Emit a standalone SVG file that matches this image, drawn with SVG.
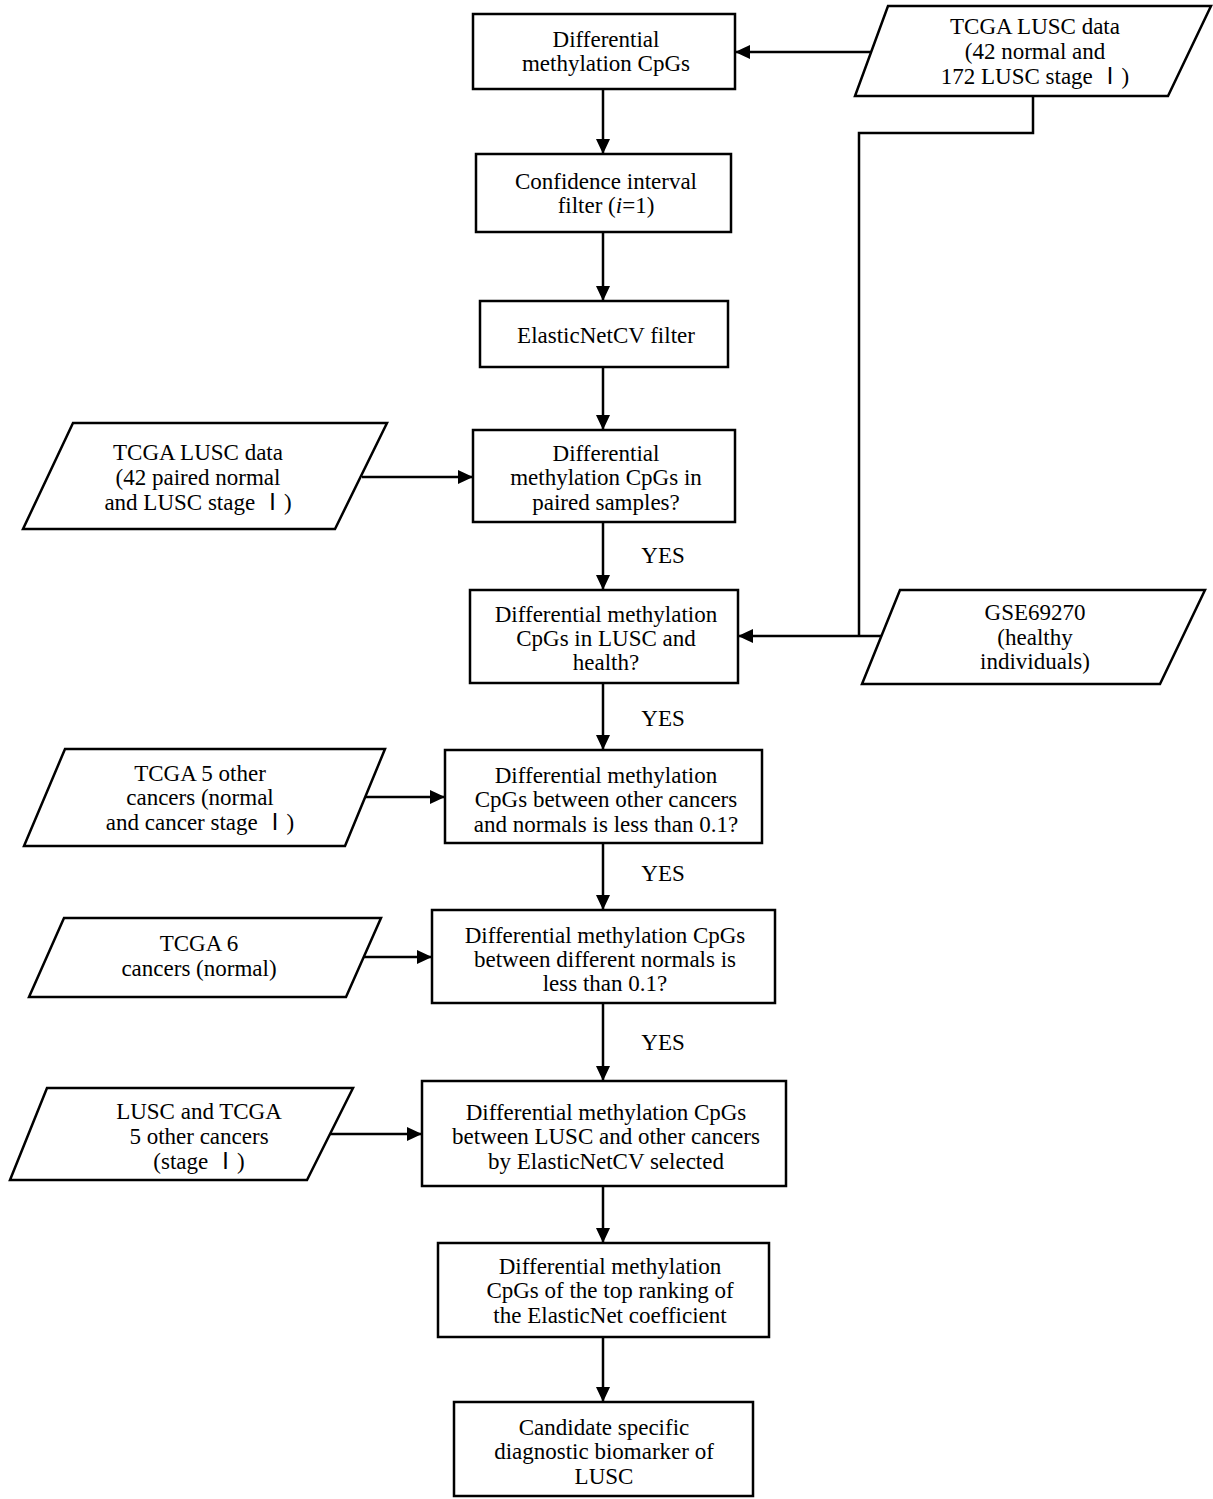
<svg xmlns="http://www.w3.org/2000/svg" width="1213" height="1499" viewBox="0 0 1213 1499">
<defs>
<style>
.b{fill:#fff;stroke:#000;stroke-width:2.5}
.t{font-family:"Liberation Serif","Noto Sans CJK SC",serif;font-size:23px;fill:#000;text-anchor:middle}
.c{fill:none;stroke:#000;stroke-width:2.5}
</style>
<marker id="a" markerUnits="userSpaceOnUse" markerWidth="16" markerHeight="16" refX="15" refY="8" orient="auto">
<path d="M0,1 L15,8 L0,15 Z" fill="#000"/>
</marker>
</defs>
<rect width="1213" height="1499" fill="#fff"/>
<g id="connectors">
<path class="c" d="M603,89 V154" marker-end="url(#a)"/>
<path class="c" d="M603,232 V301" marker-end="url(#a)"/>
<path class="c" d="M603,367 V430" marker-end="url(#a)"/>
<path class="c" d="M603,522 V590" marker-end="url(#a)"/>
<path class="c" d="M603,683 V750" marker-end="url(#a)"/>
<path class="c" d="M603,843 V910" marker-end="url(#a)"/>
<path class="c" d="M603,1003 V1081" marker-end="url(#a)"/>
<path class="c" d="M603,1186 V1243" marker-end="url(#a)"/>
<path class="c" d="M603,1337 V1402" marker-end="url(#a)"/>
<path class="c" d="M872,52 H735" marker-end="url(#a)"/>
<path class="c" d="M1033,96 V133 H859 V636"/>
<path class="c" d="M884,636 H738" marker-end="url(#a)"/>
<path class="c" d="M362,477 H473" marker-end="url(#a)"/>
<path class="c" d="M363,797 H445" marker-end="url(#a)"/>
<path class="c" d="M362,957 H432" marker-end="url(#a)"/>
<path class="c" d="M330,1134 H422" marker-end="url(#a)"/>
<text class="t" x="663" y="563">YES</text>
<text class="t" x="663" y="726">YES</text>
<text class="t" x="663" y="881">YES</text>
<text class="t" x="663" y="1050">YES</text>
</g>
<g id="n1"><rect class="b" x="473" y="14" width="262" height="75"/>
<text class="t" x="606" y="47">Differential</text><text class="t" x="606" y="71">methylation CpGs</text></g>
<g id="n2"><rect class="b" x="476" y="154" width="255" height="78"/>
<text class="t" x="606" y="189">Confidence interval</text><text class="t" x="606" y="213">filter (<tspan font-style="italic">i</tspan>=1)</text></g>
<g id="n3"><rect class="b" x="480" y="301" width="248" height="66"/>
<text class="t" x="606" y="343">ElasticNetCV filter</text></g>
<g id="n4"><rect class="b" x="473" y="430" width="262" height="92"/>
<text class="t" x="606" y="461">Differential</text><text class="t" x="606" y="485">methylation CpGs in</text><text class="t" x="606" y="510">paired samples?</text></g>
<g id="n5"><rect class="b" x="470" y="590" width="268" height="93"/>
<text class="t" x="606" y="622">Differential methylation</text><text class="t" x="606" y="646">CpGs in LUSC and</text><text class="t" x="606" y="670">health?</text></g>
<g id="n6"><rect class="b" x="445" y="750" width="317" height="93"/>
<text class="t" x="606" y="783">Differential methylation</text><text class="t" x="606" y="807">CpGs between other cancers</text><text class="t" x="606" y="832">and normals is less than 0.1?</text></g>
<g id="n7"><rect class="b" x="432" y="910" width="343" height="93"/>
<text class="t" x="605" y="943">Differential methylation CpGs</text><text class="t" x="605" y="967">between different normals is</text><text class="t" x="605" y="991">less than 0.1?</text></g>
<g id="n8"><rect class="b" x="422" y="1081" width="364" height="105"/>
<text class="t" x="606" y="1120">Differential methylation CpGs</text><text class="t" x="606" y="1144">between LUSC and other cancers</text><text class="t" x="606" y="1169">by ElasticNetCV selected</text></g>
<g id="n9"><rect class="b" x="438" y="1243" width="331" height="94"/>
<text class="t" x="610" y="1274">Differential methylation</text><text class="t" x="610" y="1298">CpGs of the top ranking of</text><text class="t" x="610" y="1323">the ElasticNet coefficient</text></g>
<g id="n10"><rect class="b" x="454" y="1402" width="299" height="94"/>
<text class="t" x="604" y="1435">Candidate specific</text><text class="t" x="604" y="1459">diagnostic biomarker of</text><text class="t" x="604" y="1484">LUSC</text></g>
<g id="p1"><polygon class="b" points="888,6 1211,6 1168,96 855,96"/>
<text class="t" x="1035" y="34">TCGA LUSC data</text><text class="t" x="1035" y="59">(42 normal and</text><text class="t" x="1035" y="84">172 LUSC stage Ⅰ)</text></g>
<g id="p2"><polygon class="b" points="73,423 387,423 335,529 23,529"/>
<text class="t" x="198" y="460">TCGA LUSC data</text><text class="t" x="198" y="485">(42 paired normal</text><text class="t" x="198" y="510">and LUSC stage Ⅰ)</text></g>
<g id="p3"><polygon class="b" points="900,590 1205,590 1160,684 862,684"/>
<text class="t" x="1035" y="620">GSE69270</text><text class="t" x="1035" y="645">(healthy</text><text class="t" x="1035" y="669">individuals)</text></g>
<g id="p4"><polygon class="b" points="65,749 385,749 345,846 24,846"/>
<text class="t" x="200" y="781">TCGA 5 other</text><text class="t" x="200" y="805">cancers (normal</text><text class="t" x="200" y="830">and cancer stage Ⅰ)</text></g>
<g id="p5"><polygon class="b" points="64,918 381,918 346,997 29,997"/>
<text class="t" x="199" y="951">TCGA 6</text><text class="t" x="199" y="976">cancers (normal)</text></g>
<g id="p6"><polygon class="b" points="47,1088 353,1088 307,1180 10,1180"/>
<text class="t" x="199" y="1119">LUSC and TCGA</text><text class="t" x="199" y="1144">5 other cancers</text><text class="t" x="199" y="1169">(stage Ⅰ)</text></g>
</svg>
